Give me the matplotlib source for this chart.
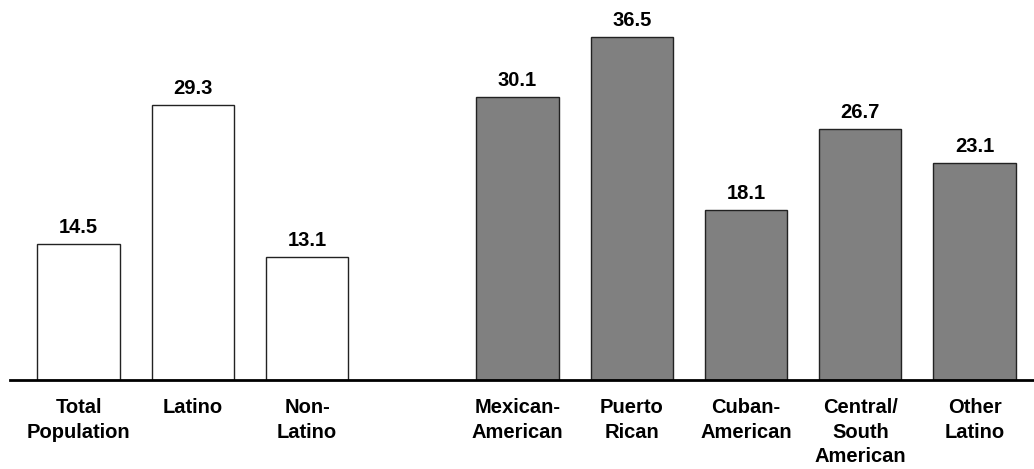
import numpy as np
import matplotlib.pyplot as plt

plt.rcParams['font.family'] = ['Liberation Sans Narrow', 'Liberation Sans', 'DejaVu Sans']
plt.rcParams['font.weight'] = 'bold'

groups = ['Total\nPopulation', 'Latino', 'Non-\nLatino',
          'Mexican-\nAmerican', 'Puerto\nRican', 'Cuban-\nAmerican',
          'Central/\nSouth\nAmerican', 'Other\nLatino']
values = [14.5, 29.3, 13.1, 30.1, 36.5, 18.1, 26.7, 23.1]
colors = ['white', 'white', 'white', '#808080', '#808080', '#808080', '#808080', '#808080']

# left block of three, gap, then the five subgroups
x = np.array([0, 1, 2, 3.84, 4.84, 5.84, 6.84, 7.84])

fig = plt.figure(figsize=(10.34, 4.69), dpi=100)
ax = fig.add_axes([10/1034, 89/469, 1024/1034, 380/469])

bars = ax.bar(x, values, width=0.72, color=colors, edgecolor='#222222', linewidth=1.0, zorder=2)

for b, v in zip(bars, values):
    ax.annotate(f'{v:.1f}', (b.get_x() + b.get_width()/2, v),
                xytext=(0, 5), textcoords='offset points',
                ha='center', va='bottom', fontsize=14.5, fontweight='bold')

ax.set_xlim(-0.6, 8.36)
ax.set_ylim(0, 40.45)
ax.set_xticks(x)
ax.set_xticklabels(groups, fontsize=14.5, fontweight='bold', linespacing=1.38, va='top')
ax.tick_params(axis='x', length=0, pad=13)
ax.set_yticks([])
for s in ['top', 'left', 'right']:
    ax.spines[s].set_visible(False)
ax.spines['bottom'].set_linewidth(2)
ax.spines['bottom'].set_zorder(3)

fig.savefig('out.png', dpi=100)
